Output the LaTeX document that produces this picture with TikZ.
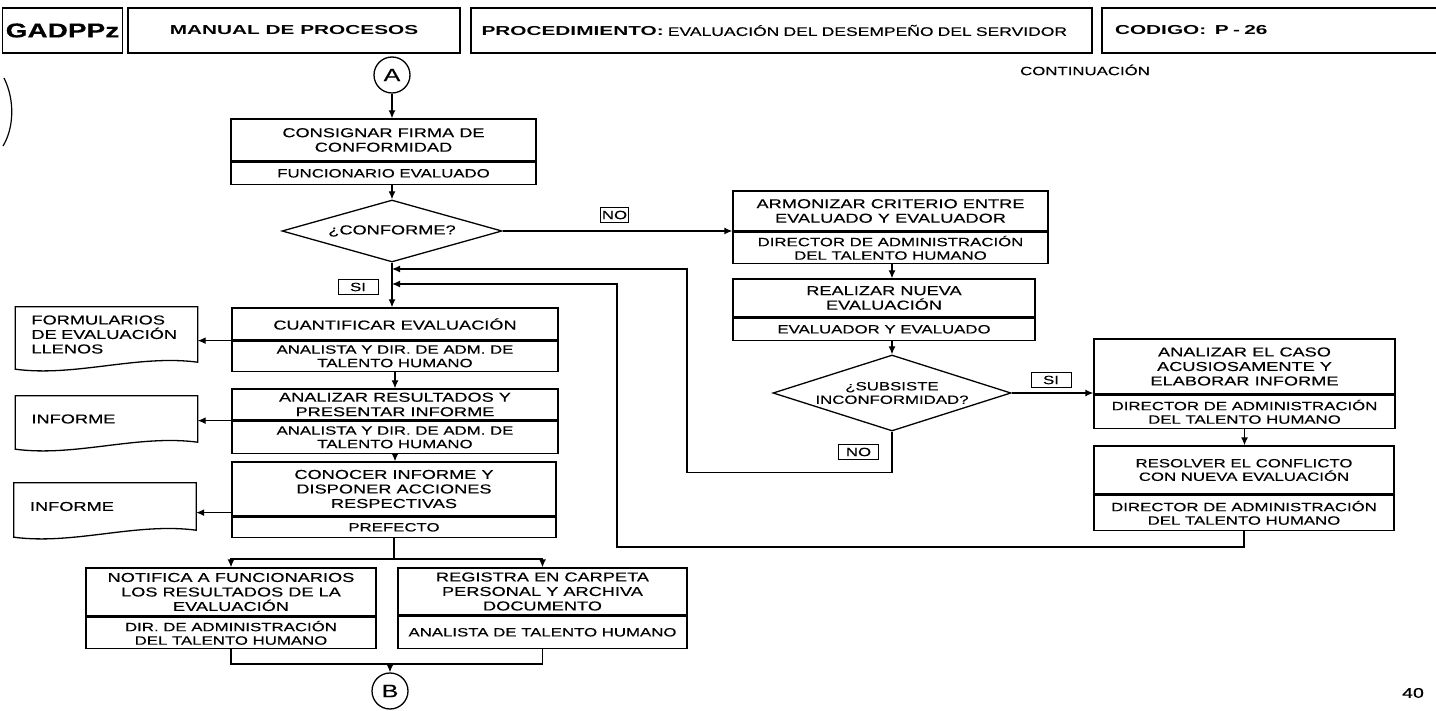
\documentclass[tikz,border=0pt]{standalone}
\usepackage{fontspec}
\newfontfamily\flowfont{Liberation Sans}[FakeStretch=1.4, FakeBold=0.3]
\newfontfamily\hdrfont{Liberation Sans}[FakeStretch=1.6]
\usetikzlibrary{positioning,shapes.geometric,arrows.meta}
\newcommand\acttxt{\flowfont\fontsize{13}{14.5}\selectfont}
\newcommand\whotxt{\flowfont\fontsize{12}{13.5}\selectfont}
\newcommand\hdrtxt{\hdrfont\fontsize{13}{15}\selectfont}
\tikzset{
  proc/.style={draw, line width=1.3pt, align=center, inner xsep=2pt, inner ysep=1pt},
  act/.style 2 args={proc, font=\acttxt, minimum width=#1, minimum height=#2},
  actsm/.style 2 args={proc, font=\whotxt, minimum width=#1, minimum height=#2},
  who/.style 2 args={proc, font=\whotxt, minimum width=#1, minimum height=#2},
  ask/.style 2 args={diamond, draw, line width=1.3pt, inner sep=-10pt, aspect=3,
    align=center, font=\whotxt, minimum width=#1, minimum height=#2},
  doc/.style={font=\acttxt, text width=150pt, align=left, inner xsep=16pt, inner ysep=0pt},
  conn/.style={circle, draw, line width=1.3pt, minimum size=36pt, inner sep=0pt,
    font=\flowfont\fontsize{18}{18}\selectfont},
  lab/.style={draw, line width=1pt, font=\whotxt, inner sep=1pt,
    minimum width=40pt, minimum height=15pt},
  hdr/.style={draw, line width=1.6pt, minimum height=45pt, inner ysep=0pt},
  line/.style={line width=1.3pt},
}
\newcommand\docshape[1]{\draw[line] (#1.north west) -- (#1.north east) -- (#1.south east)
  .. controls +(-60pt,8pt) and +(60pt,-8pt) .. ([yshift=-7pt]#1.south west) -- cycle;}
\begin{document}
\begin{tikzpicture}[x=1pt, y=-1pt, >={Latex[length=8pt,width=7pt]}]
\useasboundingbox (0,0) rectangle (1436,711);
% encabezado
\node[hdr, minimum width=115pt, font=\flowfont\bfseries\fontsize{20}{20}\selectfont] (gad) at (62.5,30.5) {GADPPz};
\node[hdr, minimum width=332pt, font=\hdrtxt\bfseries] (man) at (294,30.5) {MANUAL DE PROCESOS};
\node[hdr, text width=600pt, inner xsep=10.5pt, align=left, font=\flowfont\fontsize{12.5}{15}\selectfont] (pro) at (781.5,30.5)
  {{\hdrtxt\bfseries PROCEDIMIENTO:} EVALUACIÓN DEL DESEMPEÑO DEL SERVIDOR};
\node[hdr, text width=332pt, inner xsep=13pt, align=left, font=\hdrtxt\bfseries] (cod) at (1281,30.5)
  {CODIGO:\ \ P - 26};
\node[font=\whotxt] (cont) at (1085,70) {CONTINUACIÓN};
\draw[line width=1.2pt] (4,78) .. controls (15,100) and (14,128) .. (3,146);
% columna principal
\node[conn] (A) at (392,75) {A};
\node[act={305pt}{42pt}] (firma) at (383.5,140) {CONSIGNAR FIRMA DE\\CONFORMIDAD};
\node[who={305pt}{22pt}, below=0pt of firma] (firmaW) {FUNCIONARIO EVALUADO};
\node[ask={220pt}{62pt}, font=\acttxt] (conf) at (392,231) {¿CONFORME?};
\node[act={326pt}{32pt}] (cuant) at (395,324) {CUANTIFICAR EVALUACIÓN};
\node[who={326pt}{30pt}, below=0pt of cuant] (cuantW) {ANALISTA Y DIR. DE ADM. DE\\TALENTO HUMANO};
\node[act={326pt}{31pt}] (anres) at (395,404.5) {ANALIZAR RESULTADOS Y\\PRESENTAR INFORME};
\node[who={326pt}{32pt}, below=0pt of anres] (anresW) {ANALISTA Y DIR. DE ADM. DE\\TALENTO HUMANO};
\node[act={324pt}{54pt}] (cono) at (394,489) {CONOCER INFORME Y\\DISPONER ACCIONES\\RESPECTIVAS};
\node[who={324pt}{20pt}, below=0pt of cono] (conoW) {PREFECTO};
\node[act={290pt}{48pt}] (noti) at (231,592) {NOTIFICA A FUNCIONARIOS\\LOS RESULTADOS DE LA\\EVALUACIÓN};
\node[who={290pt}{31pt}, below=0pt of noti] (notiW) {DIR. DE ADMINISTRACIÓN\\DEL TALENTO HUMANO};
\node[act={289pt}{47pt}] (reg) at (542.5,591.5) {REGISTRA EN CARPETA\\PERSONAL Y ARCHIVA\\DOCUMENTO};
\node[who={289pt}{32pt}, below=0pt of reg] (regW) {ANALISTA DE TALENTO HUMANO};
\node[conn] (B) at (390,691) {B};
% documentos
\node[doc, minimum height=55pt] (forms) at (106.5,334.5) {FORMULARIOS\\DE EVALUACIÓN\\LLENOS};
\node[doc, minimum height=46pt] (inf1) at (106.5,419) {INFORME};
\node[doc, minimum height=47pt] (inf2) at (105,506.5) {INFORME};
\docshape{forms}
\docshape{inf1}
\docshape{inf2}
% rama derecha
\node[act={315pt}{40pt}] (arm) at (890.5,211) {ARMONIZAR CRITERIO ENTRE\\EVALUADO Y EVALUADOR};
\node[who={315pt}{31pt}, below=0pt of arm] (armW) {DIRECTOR DE ADMINISTRACIÓN\\DEL TALENTO HUMANO};
\node[act={302pt}{38pt}] (real) at (884,298) {REALIZAR NUEVA\\EVALUACIÓN};
\node[who={302pt}{22pt}, below=0pt of real] (realW) {EVALUADOR Y EVALUADO};
\node[ask={238pt}{76pt}] (sub) at (892,393) {¿SUBSISTE\\INCONFORMIDAD?};
\node[act={301pt}{55pt}] (caso) at (1244.5,366.5) {ANALIZAR EL CASO\\ACUSIOSAMENTE Y\\ELABORAR INFORME};
\node[who={301pt}{33pt}, below=0pt of caso] (casoW) {DIRECTOR DE ADMINISTRACIÓN\\DEL TALENTO HUMANO};
\node[actsm={300pt}{48pt}] (resol) at (1244,470) {RESOLVER EL CONFLICTO\\CON NUEVA EVALUACIÓN};
\node[who={300pt}{35pt}, below=0pt of resol] (resolW) {DIRECTOR DE ADMINISTRACIÓN\\DEL TALENTO HUMANO};
% etiquetas
\node[lab, minimum width=27pt] (no1) at (614.5,215) {NO};
\node[lab] (si1) at (358,287) {SI};
\node[lab] (si2) at (1051,380) {SI};
\node[lab] (no2) at (858.5,452) {NO};
% conectores
\draw[line,->] (A) -- (A |- firma.north);
\draw[line,->] (conf.north |- firmaW.south) -- (conf.north);
\draw[line,->] (conf.east) -- (conf.east -| arm.west);
\draw[line,->] (sub.north |- armW.south) -- (sub.north |- real.north);
\draw[line,->] (sub.north |- realW.south) -- (sub.north);
\draw[line,->] (sub.east) -- (sub.east -| caso.west);
\draw[line,->] (casoW.south) -- (casoW.south |- resol.north);
\draw[line,->] (conf.south) -- (conf.south |- cuant.north);
\draw[line,->] (cuantW.south) -- (cuantW.south |- anres.north);
\draw[line,->] (anresW.south) -- (anresW.south |- cono.north);
\draw[line,->] (cuant.south west) -- (cuant.south west -| forms.east);
\draw[line,->] (anres.south west) -- (anres.south west -| inf1.east);
\draw[line,->] ([yshift=4pt]cono.south west) -- ([yshift=4pt]cono.south west -| inf2.east);
% retornos
\coordinate (fbA) at (687,269);
\coordinate (fbB) at (617,284);
\draw[line,->] (sub.south) -- ++(0,41) -| (fbA) -- (fbA -| conf.south);
\draw[line,->] (resolW.south) -- ++(0,16) -| (fbB) -- (fbB -| conf.south);
% bifurcacion y union
\draw[line] (conoW.south) -- ++(0,21) coordinate (split);
\draw[line,->] (split) -| (noti.north);
\draw[line,->] (split) -| (reg.north);
\draw[line] (notiW.south) -- ++(0,15) coordinate (mrg) -| (regW.south);
\draw[line,->] (B |- mrg) -- (B);
\node[font=\flowfont\fontsize{14}{14}\selectfont] (pg) at (1413,693) {40};
\end{tikzpicture}
\end{document}
